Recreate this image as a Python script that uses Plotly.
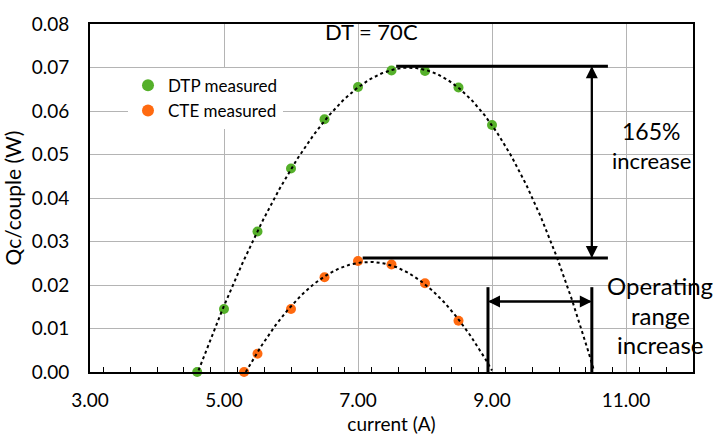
import numpy as np
import plotly.graph_objects as go

# ---- data ----
dtp_current = [4.6, 5.0, 5.5, 6.0, 6.5, 7.0, 7.5, 8.0, 8.5, 9.0]
dtp_qc = [0.0, 0.0145, 0.0323, 0.0468, 0.0581, 0.0655, 0.0693, 0.0692, 0.0654, 0.0568]
cte_current = [5.3, 5.5, 6.0, 6.5, 7.0, 7.5, 8.0, 8.5]
cte_qc = [0.0, 0.0042, 0.0145, 0.0218, 0.0255, 0.0247, 0.0204, 0.0118]
dtp_trend_range = [4.6, 10.6]
cte_trend_range = [5.3, 9.0]

x_ticks = [3, 5, 7, 9, 11]
x_tick_labels = ["3.00", "5.00", "7.00", "9.00", "11.00"]
y_ticks = [0, 0.01, 0.02, 0.03, 0.04, 0.05, 0.06, 0.07, 0.08]
y_tick_labels = ["0.00", "0.01", "0.02", "0.03", "0.04", "0.05", "0.06", "0.07", "0.08"]

# annotation geometry (data coordinates)
top_level = 0.0703
low_level = 0.0262
top_line_x = [7.57, 10.73]
low_line_x = [7.07, 10.73]
arrow_x = 10.49
op_left = 8.94
op_right = 10.49
op_top = 0.0195
op_arrow_y = 0.0162

FONT = "Lato, 'Open Sans', sans-serif"
GREEN = "#55b02a"
ORANGE = "#ff6a10"

L, R, T, B = 90, 20, 14, 72
PW, PH = 713 - L - R, 444 - T - B

def px(x):
    return (x - L) / PW

def py(y):
    return (444 - B - y) / PH

fig = go.Figure()

def trend(xs, ys, deg, rng):
    c = np.polyfit(xs, ys, deg)
    xx = np.linspace(rng[0], rng[1], 300)
    yy = np.polyval(c, xx)
    keep = yy >= -0.0002
    return xx[keep], yy[keep]

tx, ty = trend(dtp_current, dtp_qc, 3, dtp_trend_range)
tx2, ty2 = trend(cte_current, cte_qc, 2, cte_trend_range)

fig.add_trace(go.Scatter(x=dtp_current, y=dtp_qc, mode="markers", name="DTP measured",
                         marker=dict(color=GREEN, size=10), cliponaxis=False))
fig.add_trace(go.Scatter(x=cte_current, y=cte_qc, mode="markers", name="CTE measured",
                         marker=dict(color=ORANGE, size=10), cliponaxis=False))

# dotted trendlines drawn on top of markers (as in reference)
fig.add_trace(go.Scatter(x=tx, y=ty, mode="lines", line=dict(color="black", width=2, dash="dot"),
                         showlegend=False, hoverinfo="skip"))
fig.add_trace(go.Scatter(x=tx2, y=ty2, mode="lines", line=dict(color="black", width=2, dash="dot"),
                         showlegend=False, hoverinfo="skip"))

# horizontal level lines
fig.add_shape(type="line", x0=top_line_x[0], x1=top_line_x[1], y0=top_level, y1=top_level,
              line=dict(color="black", width=3))
fig.add_shape(type="line", x0=low_line_x[0], x1=low_line_x[1], y0=low_level, y1=low_level,
              line=dict(color="black", width=3))
# vertical operating range lines
fig.add_shape(type="line", x0=op_left, x1=op_left, y0=0, y1=op_top, line=dict(color="black", width=3))
fig.add_shape(type="line", x0=op_right, x1=op_right, y0=0, y1=op_top, line=dict(color="black", width=3))

# double arrows
def arrow(x, y, ax, ay):
    fig.add_annotation(x=x, y=y, ax=ax, ay=ay, xref="x", yref="y", axref="x", ayref="y",
                       text="", showarrow=True, arrowhead=2, arrowsize=1.2, arrowwidth=2,
                       arrowcolor="black")

arrow(arrow_x, top_level, arrow_x, low_level)
arrow(arrow_x, low_level, arrow_x, top_level)
arrow(op_left, op_arrow_y, op_right, op_arrow_y)
arrow(op_right, op_arrow_y, op_left, op_arrow_y)

texts = [("DT = 70C", 371, 22, 22),
         ("165%", 651, 124, 23), ("increase", 651, 154, 22),
         ("Operating", 660, 283, 24), ("range", 660, 314, 24), ("increase", 660, 344, 24)]
for t, x, y, fs in texts:
    fig.add_annotation(x=px(x), y=py(y), xref="paper", yref="paper", text=t,
                       showarrow=False, font=dict(size=fs, color="black", family=FONT),
                       xanchor="center", yanchor="middle")

fig.update_layout(
    width=713, height=444,
    margin=dict(l=L, r=R, t=T, b=B),
    paper_bgcolor="white", plot_bgcolor="white",
    font=dict(family=FONT, color="black", size=16),
    legend=dict(x=px(128), y=py(59), xanchor="left", yanchor="top",
                bgcolor="white", font=dict(size=17, family=FONT), itemsizing="constant",
                tracegroupgap=0),
    showlegend=True,
)
fig.update_xaxes(range=[3, 12], tickvals=x_ticks, ticktext=x_tick_labels,
                 showgrid=True, gridcolor="#b4b4b4", gridwidth=1,
                 showline=True, linecolor="black", linewidth=2, mirror=True,
                 ticks="", zeroline=False, ticklabelstandoff=10,
                 minor=dict(dtick=0.4, ticks="inside", ticklen=5, tickcolor="black", showgrid=False),
                 title=dict(text="current (A)", font=dict(size=19), standoff=8),
                 tickfont=dict(size=19))
fig.update_yaxes(range=[0, 0.08], tickvals=y_ticks, ticktext=y_tick_labels,
                 showgrid=True, gridcolor="#b4b4b4", gridwidth=1,
                 showline=True, linecolor="black", linewidth=2, mirror=True,
                 ticks="", zeroline=False, ticklabelstandoff=15,
                 title=dict(text="Qc/couple (W)", font=dict(size=21), standoff=4),
                 tickfont=dict(size=19))

fig.write_html("out.html")
